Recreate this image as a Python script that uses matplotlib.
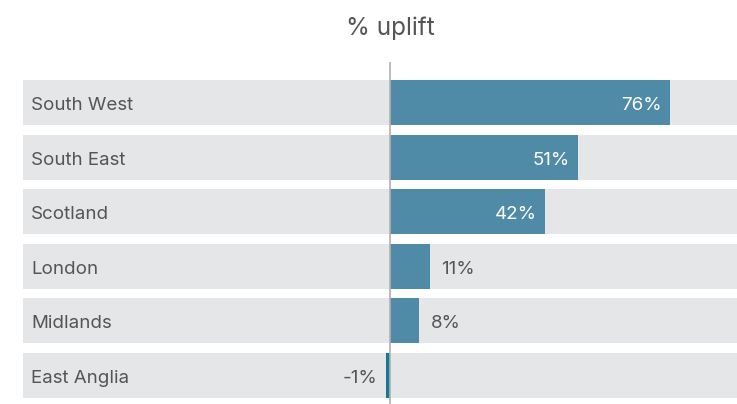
import matplotlib
matplotlib.use("Agg")
import matplotlib.pyplot as plt
from matplotlib.transforms import blended_transform_factory, offset_copy

regions = ["South West", "South East", "Scotland", "London", "Midlands", "East Anglia"]
uplift = [76, 51, 42, 11, 8, -1]
title = "% uplift"

plt.rcParams['font.family'] = ['Inter', 'DejaVu Sans']

fig = plt.figure(figsize=(7.37, 4.04), dpi=100)
ax = fig.add_axes([23/737, 0, 714/737, (404-62)/404])
xmin, xmax = -99.6, 94.2
ax.set_xlim(xmin, xmax)
ax.set_ylim(5.52, -0.742)
for s in ax.spines.values():
    s.set_visible(False)
ax.set_xticks([])
ax.set_yticks([])

h = 0.824
ys = list(range(len(regions)))
ax.barh(ys, [xmax - xmin]*len(ys), left=xmin, height=h, color="#e5e6e8", zorder=1)
colors = ["#4f8ba6" if v >= 0 else "#167894" for v in uplift]
ax.barh(ys, uplift, height=h, color=colors, zorder=2)
ax.axvline(0, color="#b0b0b0", lw=1.2, zorder=3)

txt = "#555555"
fs = 13.5
base_off = -7.5
tr = blended_transform_factory(ax.transAxes, ax.transData)
tr_lab = offset_copy(tr, fig=fig, x=0, y=base_off, units="dots")
for y, name, v in zip(ys, regions, uplift):
    ax.text(8/714, y, name, transform=tr_lab, ha="left", va="baseline", fontsize=fs, color=txt, zorder=4)
    label = f"{v}%"
    if v >= 30:
        t = offset_copy(ax.transData, fig=fig, x=-8, y=base_off, units="dots")
        ax.text(v, y, label, transform=t, ha="right", va="baseline", fontsize=fs, color="white", zorder=4)
    elif v >= 0:
        t = offset_copy(ax.transData, fig=fig, x=11, y=base_off, units="dots")
        ax.text(v, y, label, transform=t, ha="left", va="baseline", fontsize=fs, color=txt, zorder=4)
    else:
        t = offset_copy(ax.transData, fig=fig, x=-9, y=base_off, units="dots")
        ax.text(v, y, label, transform=t, ha="right", va="baseline", fontsize=fs, color=txt, zorder=4)

fig.text(390/737, 1 - 35.5/404, title, ha="center", va="baseline", fontsize=17.5, color="#555555")
fig.savefig("out.png", dpi=100)
